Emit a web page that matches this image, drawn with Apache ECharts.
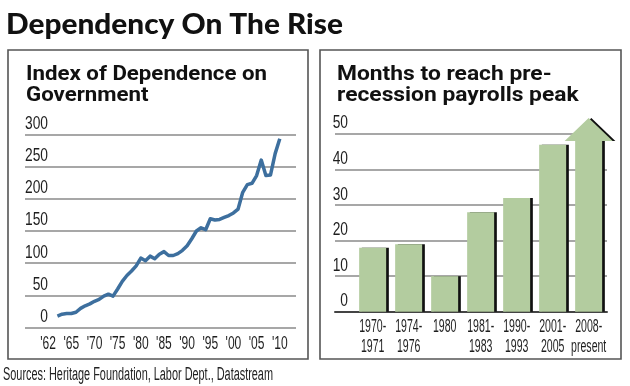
<!DOCTYPE html>
<html><head><meta charset="utf-8">
<script src="https://cdn.jsdelivr.net/npm/echarts@6/dist/echarts.min.js"></script>
<style>html,body{margin:0;padding:0;background:#fff}#c{width:630px;height:386px}</style>
</head><body><div id="c"></div>
<script>
// ---- Left chart: Index of Dependence on Government ----
const years = [1962,1963,1964,1965,1966,1967,1968,1969,1970,1971,1972,1973,1974,1975,1976,1977,1978,1979,1980,1981,1982,1983,1984,1985,1986,1987,1988,1989,1990,1991,1992,1993,1994,1995,1996,1997,1998,1999,2000,2001,2002,2003,2004,2005,2006,2007,2008,2009,2010];
const dependenceIndex = [18,21,22,22,24,30,34,37,41,44,49,52,49,60,72,81,88,96,108,104,111,107,114,118,112,112,115,120,127,138,150,155,152,169,167,168,171,174,178,184,210,222,224,236,260,236,237,270,293];
// tick positions on the year scale and their printed labels ('62 is squeezed in at the first slot, as in the original)
const indexTickYears = [1960,1965,1970,1975,1980,1985,1990,1995,2000,2005,2010];
const indexTickLabels = ["'62","'65","'70","'75","'80","'85","'90","'95","'00","'05","'10"];
const indexAxisTicks = [0,50,100,150,200,250,300];

// ---- Right chart: Months to reach pre-recession payrolls peak ----
const recessionPeriods = ["1970-\n1971","1974-\n1976","1980","1981-\n1983","1990-\n1993","2001-\n2005","2008-\npresent"];
const monthsToPeak = [18,19,10,28,32,47,48];
const stillRising = [0,0,0,0,0,0,1];
const monthsAxisTicks = [0,10,20,30,40,50];

const LABEL_FONT = "18px 'Liberation Sans',Arial,sans-serif";
const HEAD = "Roboto,'Liberation Sans',sans-serif";
const BIG = "Lato,'Open Sans',sans-serif";
const BAR_GREEN = '#b3cc9f';
const TEXT = '#1e1e1e';

function fitScale(text, font, target) {
  const ctx = document.createElement('canvas').getContext('2d');
  ctx.font = font;
  return target / ctx.measureText(text).width;
}
const Y_SCALE = fitScale('300', LABEL_FONT, 23);
const X_SCALE = fitScale("'65", LABEL_FONT, 15.7);
const CAT_SCALE = fitScale('1970-', LABEL_FONT, 27);

const mainTitle = 'Dependency On The Rise';
const mainFont = '900 29px ' + BIG;
const leftTitle = ['Index of Dependence on', 'Government'];
const rightTitle = ['Months to reach pre-', 'recession payrolls peak'];
const panelFont = 'bold 20px ' + HEAD;
const sourceText = 'Sources: Heritage Foundation, Labor Dept., Datastream';

const chart = echarts.init(document.getElementById('c'), null, {renderer: 'canvas'});

function textEl(x, y, text, font, scale, align, vAlign, fill, lineHeight) {
  return {
    type: 'text', x: x, y: y, scaleX: scale, silent: true,
    style: {text: text, font: font, fill: fill || TEXT, align: align, textAlign: align,
            verticalAlign: vAlign, textVerticalAlign: vAlign, lineHeight: lineHeight || 20}
  };
}

const gridLine = {show: true, lineStyle: {color: '#8a8a8a', width: 1.5}};
const noLabels = {show: false};

function yLabelSeries(xIdx, yIdx, ticks, xAt, dx) {
  return {type: 'custom', xAxisIndex: xIdx, yAxisIndex: yIdx, clip: false, silent: true,
    data: ticks.map(v => [xAt, v]),
    renderItem: (params, api) => {
      const p = api.coord([api.value(0), api.value(1)]);
      return textEl(p[0] + dx, p[1] - 10.5, String(api.value(1)), LABEL_FONT, Y_SCALE, 'right', 'middle');
    }};
}

const option = {
  animation: false,
  backgroundColor: '#fff',
  grid: [
    {left: 25, right: 334, top: 134.3, bottom: 58.3},
    {left: 335, right: 23, top: 134, bottom: 74.3},
    {left: 356, right: 22, top: 134, bottom: 74.3}
  ],
  xAxis: [
    {gridIndex: 0, type: 'value', min: 1955, max: 2013.5, interval: 5,
     axisLine: {show: false}, axisTick: {show: false}, splitLine: {show: false}, axisLabel: noLabels},
    {gridIndex: 1, type: 'value', min: 0, max: 1, show: true,
     axisLine: {show: true, onZero: false, lineStyle: {color: '#444', width: 2}},
     axisTick: {show: false}, axisLabel: noLabels, splitLine: {show: false}},
    {gridIndex: 2, type: 'category', data: recessionPeriods,
     axisLine: {show: false}, axisTick: {show: false}, axisLabel: noLabels}
  ],
  yAxis: [
    {gridIndex: 0, type: 'value', min: 0, max: 300, interval: 50,
     axisLine: {show: false}, axisTick: {show: false}, splitLine: gridLine, axisLabel: noLabels},
    {gridIndex: 1, type: 'value', min: 0, max: 50, interval: 10,
     axisLine: {show: false}, axisTick: {show: false}, splitLine: gridLine, axisLabel: noLabels},
    {gridIndex: 2, type: 'value', min: 0, max: 50, show: false}
  ],
  series: [
    {type: 'line', xAxisIndex: 0, yAxisIndex: 0,
     data: years.map((y, i) => [y, dependenceIndex[i]]),
     showSymbol: false, symbol: 'none', smooth: false,
     lineStyle: {color: '#3d6f9e', width: 3.5, join: 'round'}},
    {type: 'custom', xAxisIndex: 2, yAxisIndex: 2, clip: false,
     data: monthsToPeak.map((v, i) => [i, v, stillRising[i]]),
     encode: {x: 0, y: 1},
     renderItem: function (params, api) {
       const i = api.value(0), v = api.value(1), arrow = api.value(2);
       const top = api.coord([i, v]);
       const base = api.coord([i, 0]);
       const w = 27, edge = 2.7;
       const x0 = top[0] - (w + edge) / 2;
       let pts;
       if (arrow) {
         const hc = x0 + w / 2, hh = 23, hw = 24;
         pts = [[x0, base[1]], [x0, top[1]], [hc - hw, top[1]], [hc, top[1] - hh],
                [hc + hw, top[1]], [x0 + w, top[1]], [x0 + w, base[1]]];
       } else {
         pts = [[x0, base[1]], [x0, top[1]], [x0 + w, top[1]], [x0 + w, base[1]]];
       }
       const shadow = pts.map(p => [p[0] + edge, p[1]]);
       return {type: 'group', children: [
         {type: 'polygon', shape: {points: shadow}, style: {fill: '#111'}},
         {type: 'polygon', shape: {points: pts}, style: {fill: BAR_GREEN}}
       ]};
     }},
    // tick labels of the year axis
    {type: 'custom', xAxisIndex: 0, yAxisIndex: 0, clip: false, silent: true,
     data: indexTickYears.map((y, i) => [y, 0, i]),
     renderItem: (params, api) => {
       const p = api.coord([api.value(0), 0]);
       return textEl(p[0], p[1] + 16.5, indexTickLabels[api.value(2)], LABEL_FONT, X_SCALE, 'center', 'middle');
     }},
    // tick labels of the period axis
    {type: 'custom', xAxisIndex: 2, yAxisIndex: 2, clip: false, silent: true,
     data: recessionPeriods.map((c, i) => [i, 0]),
     renderItem: (params, api) => {
       const i = api.value(0);
       const p = api.coord([i, 0]);
       return textEl(p[0] - 1.3, p[1] + 5, recessionPeriods[i], LABEL_FONT, CAT_SCALE, 'center', 'top', TEXT, 20);
     }},
    yLabelSeries(0, 0, indexAxisTicks, 1955, 23),
    yLabelSeries(1, 1, monthsAxisTicks, 0, 13)
  ],
  graphic: [
    {type: 'rect', shape: {x: 8, y: 50, width: 300, height: 309}, silent: true,
     style: {fill: 'none', stroke: '#555', lineWidth: 1.6}},
    {type: 'rect', shape: {x: 320, y: 50, width: 301, height: 309}, silent: true,
     style: {fill: 'none', stroke: '#555', lineWidth: 1.6}},
    textEl(6, 24.5, mainTitle, mainFont, fitScale(mainTitle, mainFont, 337), 'left', 'middle', '#111'),
    textEl(26, 64, leftTitle.join('\n'), panelFont, fitScale(leftTitle[0], panelFont, 241), 'left', 'top', '#111', 21),
    textEl(337, 64, rightTitle.join('\n'), panelFont, fitScale(rightTitle[1], panelFont, 241.6), 'left', 'top', '#111', 21),
    textEl(3, 375, sourceText, LABEL_FONT, fitScale(sourceText, LABEL_FONT, 270), 'left', 'middle', '#222')
  ]
};
chart.setOption(option);
</script></body></html>
